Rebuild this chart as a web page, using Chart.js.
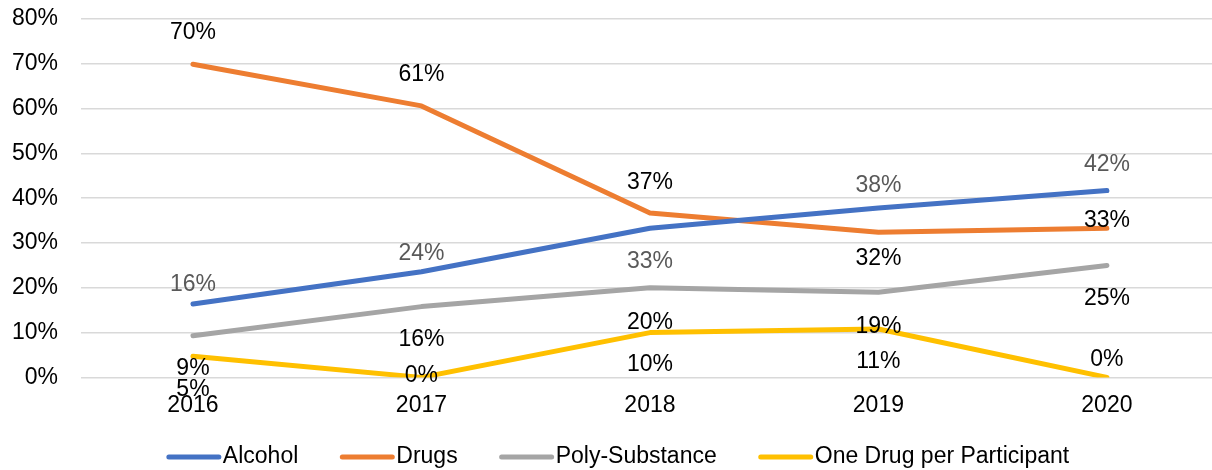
<!DOCTYPE html>
<html>
<head>
<meta charset="utf-8">
<script src="https://cdn.jsdelivr.net/npm/chart.js@4.4.1/dist/chart.umd.min.js"></script>
<style>
  html, body { margin: 0; padding: 0; background: #fff; overflow: hidden; }
  .chartbox { width: 1212px; height: 470px; }
</style>
</head>
<body>
<div class="chartbox"><canvas id="chart"></canvas></div>
<script>
const years = [2016, 2017, 2018, 2019, 2020];
const alcohol = [16.4, 23.6, 33.3, 37.8, 41.7];
const drugs = [69.9, 60.6, 36.7, 32.4, 33.3];
const polySubstance = [9.3, 15.8, 20.0, 19.0, 25.0];
const oneDrug = [4.7, 0, 10.0, 10.8, 0];
const yTicks = [0, 10, 20, 30, 40, 50, 60, 70, 80];

// vertical nudges for the value labels, per series
const labelShift = [
    [-19, -18, 33, -22, -26],
    [-32, -31, -30, 26, -8],
    [33, 33, 35, 34, 33],
    [33, -2, 32, 33, -18]
];
const labelColors = ["#595959", "#000000", "#000000", "#000000"];

const FONT = "'Liberation Sans', Arial, sans-serif";
const FONT_SIZE = 23;

function series(label, values, color) {
    return {
        label: label,
        data: years.map((y, i) => ({ x: y, y: values[i] })),
        borderColor: color,
        backgroundColor: color,
        borderWidth: 5,
        borderCapStyle: "round",
        borderJoinStyle: "round",
        pointRadius: 0,
        tension: 0
    };
}

// value labels next to each point
const valueLabels = {
    id: "valueLabels",
    afterDatasetsDraw(chart) {
        const ctx = chart.ctx;
        ctx.save();
        ctx.font = FONT_SIZE + "px " + FONT;
        ctx.textAlign = "center";
        ctx.textBaseline = "middle";
        chart.data.datasets.forEach((ds, d) => {
            const meta = chart.getDatasetMeta(d);
            meta.data.forEach((pt, i) => {
                ctx.fillStyle = labelColors[d];
                ctx.fillText(Math.round(ds.data[i].y) + "%", pt.x, pt.y + labelShift[d][i]);
            });
        });
        ctx.restore();
    }
};

// excel style legend: long line swatch, text right after it
const bottomLegend = {
    id: "bottomLegend",
    afterDraw(chart) {
        const ctx = chart.ctx;
        const sets = chart.data.datasets;
        const lineLen = 54, gap = 2, itemGap = 42, y = 457;
        ctx.save();
        ctx.font = FONT_SIZE + "px " + FONT;
        ctx.textBaseline = "middle";
        const widths = sets.map(ds => ctx.measureText(ds.label).width);
        const total = widths.reduce((a, w) => a + w + lineLen + gap, 0) + itemGap * (sets.length - 1);
        let x = 618 - total / 2;
        sets.forEach((ds, i) => {
            ctx.strokeStyle = ds.borderColor;
            ctx.lineWidth = 5;
            ctx.lineCap = "round";
            ctx.beginPath();
            ctx.moveTo(x + 2, y);
            ctx.lineTo(x + lineLen - 2, y);
            ctx.stroke();
            ctx.fillStyle = "#000";
            ctx.fillText(ds.label, x + lineLen + gap, y);
            x += lineLen + gap + widths[i] + itemGap;
        });
        ctx.restore();
    }
};

new Chart(document.getElementById("chart").getContext("2d"), {
    type: "line",
    data: {
        datasets: [
            series("Alcohol", alcohol, "#4472C4"),
            series("Drugs", drugs, "#ED7D31"),
            series("Poly-Substance", polySubstance, "#A5A5A5"),
            series("One Drug per Participant", oneDrug, "#FFC000")
        ]
    },
    options: {
        responsive: true,
        maintainAspectRatio: false,
        animation: false,
        layout: { padding: { top: 19, right: 0, left: 0, bottom: 45 } },
        plugins: {
            tooltip: { enabled: false },
            legend: { display: false }
        },
        scales: {
            x: {
                type: "linear",
                min: 2015.51,
                max: 2020.46,
                grid: { display: false },
                border: { display: false },
                afterBuildTicks(scale) {
                    scale.ticks = years.map(v => ({ value: v }));
                },
                ticks: {
                    color: "#000",
                    font: { family: FONT, size: FONT_SIZE },
                    padding: 6,
                    maxRotation: 0,
                    callback: v => String(v)
                }
            },
            y: {
                min: 0,
                max: 80,
                afterFit(scale) {
                    scale.width = 81;
                    scale.paddingTop = 0;
                    scale.paddingBottom = 0;
                },
                afterBuildTicks(scale) {
                    scale.ticks = yTicks.map(v => ({ value: v }));
                },
                grid: { color: "#D9D9D9", lineWidth: 1.5, drawTicks: false },
                border: { display: false },
                ticks: {
                    color: "#000",
                    font: { family: FONT, size: FONT_SIZE },
                    padding: 23,
                    callback: v => v + "%"
                }
            }
        }
    },
    plugins: [valueLabels, bottomLegend]
});
</script>
</body>
</html>
